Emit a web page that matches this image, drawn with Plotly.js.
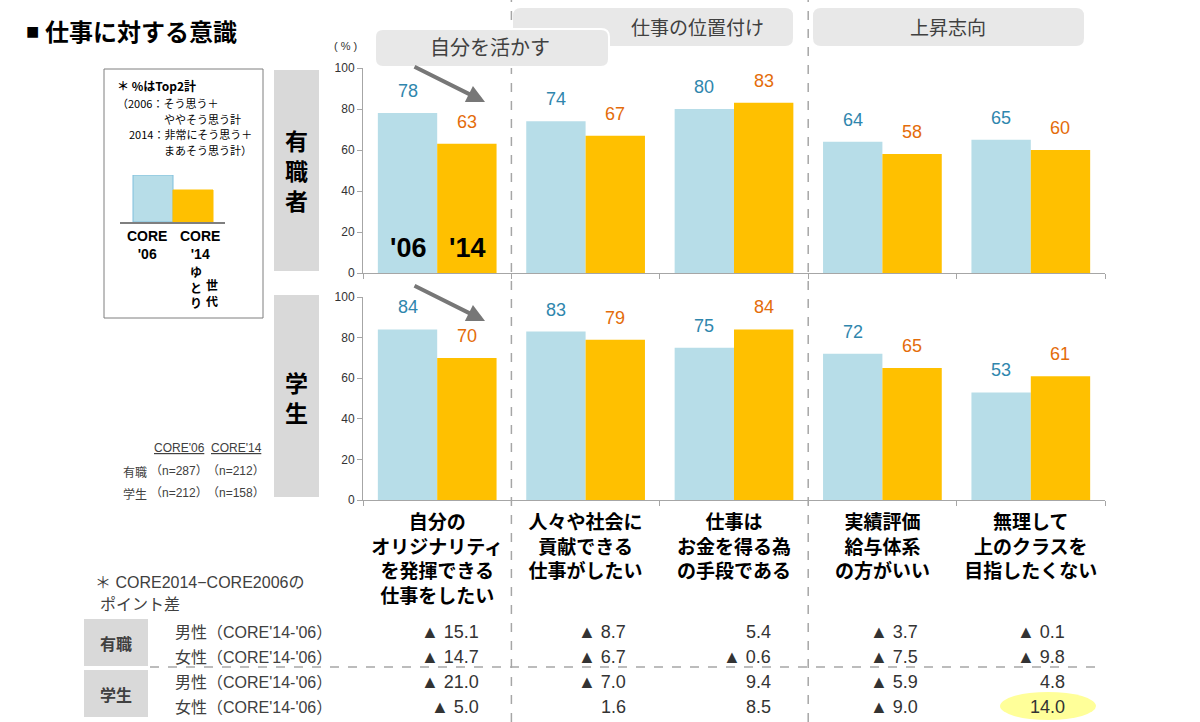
<!DOCTYPE html>
<html><head><meta charset="utf-8">
<script src="https://cdn.plot.ly/plotly-3.0.1.min.js"></script>
<style>html,body{margin:0;padding:0;background:#fff}#chart{width:1200px;height:722px}</style>
</head><body><div id="chart"></div>
<script>
// ---------- DATA ----------
const categories = [
  '自分の<br>オリジナリティ<br>を発揮できる<br>仕事をしたい',
  '人々や社会に<br>貢献できる<br>仕事がしたい',
  '仕事は<br>お金を得る為<br>の手段である',
  '実績評価<br>給与体系<br>の方がいい',
  '無理して<br>上のクラスを<br>目指したくない'
];
const workers2006 = [78, 74, 80, 64, 65];
const workers2014 = [63, 67, 83, 58, 60];
const students2006 = [84, 83, 75, 72, 53];
const students2014 = [70, 79, 84, 65, 61];
const yTicks = [0, 20, 40, 60, 80, 100];

const diffRowLabels = ["男性（CORE'14-'06）", "女性（CORE'14-'06）", "男性（CORE'14-'06）", "女性（CORE'14-'06）"];
const diffWorkersMale    = [-15.1, -8.7, 5.4, -3.7, -0.1];
const diffWorkersFemale  = [-14.7, -6.7, -0.6, -7.5, -9.8];
const diffStudentsMale   = [-21.0, -7.0, 9.4, -5.9, 4.8];
const diffStudentsFemale = [-5.0, 1.6, 8.5, -9.0, 14.0];

const legendSample = [47, 32];
const sampleHeader = ["CORE'06", "CORE'14"];
const sampleWorkers = ['（n=287）', '（n=212）'];
const sampleStudents = ['（n=212）', '（n=158）'];

// ---------- STYLE ----------
const W = 1200, H = 722;
const px = x => x / W;
const py = y => 1 - y / H;
const BLUE = '#b7dde8', ORANGE = '#ffc000';
const BLUE_TXT = '#2f86ad', ORANGE_TXT = '#e46c0a';
const GRAY_BOX = '#d9d9d9', HEAD_BOX = '#e8e8e8';
const FONT = "Arial, 'Liberation Sans', 'Noto Sans CJK JP', sans-serif";
const JFONT = "'Noto Sans CJK JP', sans-serif";
const axisGray = '#a6a6a6';

const barCommon = {type: 'bar', hoverinfo: 'skip', marker: {line: {width: 0}}};
const traces = [
  Object.assign({}, barCommon, {x: categories, y: workers2006, xaxis: 'x', yaxis: 'y', offsetgroup: 'a', marker: {color: BLUE}}),
  Object.assign({}, barCommon, {x: categories, y: workers2014, xaxis: 'x', yaxis: 'y', offsetgroup: 'b', marker: {color: ORANGE}}),
  Object.assign({}, barCommon, {x: categories, y: students2006, xaxis: 'x2', yaxis: 'y2', offsetgroup: 'a', marker: {color: BLUE}}),
  Object.assign({}, barCommon, {x: categories, y: students2014, xaxis: 'x2', yaxis: 'y2', offsetgroup: 'b', marker: {color: ORANGE}}),
  {type: 'bar', x: [0, 1], y: legendSample, xaxis: 'x3', yaxis: 'y3', width: 1, hoverinfo: 'skip',
   marker: {color: [BLUE, ORANGE], line: {color: ['#7fbfdc', ORANGE], width: 1}}}
];

const xCommon = {
  type: 'category', domain: [px(363), px(1105)], range: [-0.5, 4.5],
  showline: true, linecolor: axisGray, linewidth: 1,
  ticks: 'outside', tickson: 'boundaries', ticklen: 5, tickcolor: axisGray,
  showgrid: false, zeroline: false, fixedrange: true
};
const yCommon = {
  range: [0, 100], tickvals: yTicks, showline: true, linecolor: axisGray, linewidth: 1,
  ticks: 'outside', ticklen: 5, tickcolor: axisGray, showgrid: false, zeroline: false,
  tickfont: {family: FONT, size: 12, color: '#333'}, fixedrange: true
};

const annotations = [];
const ann = (o) => annotations.push(Object.assign({showarrow: false, xref: 'paper', yref: 'paper',
  xanchor: 'center', yanchor: 'middle'}, o));

// Value labels
function valueLabels(vals, xr, yr, dx, color) {
  vals.forEach((v, i) => ann({xref: xr, yref: yr, x: i + dx, y: v, yshift: 22, text: String(v),
    font: {family: FONT, size: 18, color: color}}));
}
valueLabels(workers2006, 'x', 'y', -0.2, BLUE_TXT);
valueLabels(workers2014, 'x', 'y', 0.2, ORANGE_TXT);
valueLabels(students2006, 'x2', 'y2', -0.2, BLUE_TXT);
valueLabels(students2014, 'x2', 'y2', 0.2, ORANGE_TXT);

// '06 / '14 big labels
ann({xref: 'x', yref: 'y', x: -0.2, y: 12, text: "<b>'06</b>", font: {family: FONT, size: 27, color: '#000'}});
ann({xref: 'x', yref: 'y', x: 0.2, y: 12, text: "<b>'14</b>", font: {family: FONT, size: 27, color: '#000'}});

// Title etc.
ann({x: px(24), y: py(31), xanchor: 'left', text: '■', font: {family: FONT, size: 22, color: '#000'}});
ann({x: px(43), y: py(30), xanchor: 'left', text: '<b>仕事に対する意識</b>', font: {family: JFONT, size: 24, color: '#000'}});
ann({x: px(345), y: py(46), text: '( % )', font: {family: FONT, size: 11, color: '#333'}});
ann({x: px(697), y: py(27), text: '仕事の位置付け', font: {family: JFONT, size: 19, color: '#404040'}});
ann({x: px(948), y: py(27), text: '上昇志向', font: {family: JFONT, size: 19, color: '#404040'}});
ann({x: px(490), y: py(46), text: '自分を活かす', font: {family: JFONT, size: 20, color: '#404040'}});

// Panel labels
ann({x: px(296), y: py(170), text: '<b>有<br>職<br>者</b>', font: {family: JFONT, size: 23, color: '#000'}});
ann({x: px(296), y: py(397), text: '<b>学<br>生</b>', font: {family: JFONT, size: 23, color: '#000'}});

// Arrows
ann({x: px(485), y: py(102), ax: -72, ay: -36, showarrow: true, text: '', arrowhead: 2, arrowsize: 0.9, arrowwidth: 4, arrowcolor: '#777'});
ann({x: px(485), y: py(321), ax: -72, ay: -36, showarrow: true, text: '', arrowhead: 2, arrowsize: 0.9, arrowwidth: 4, arrowcolor: '#777'});

// Legend box texts
ann({x: px(115), y: py(86), xanchor: 'left', text: '<b>＊ %はTop2計</b>', font: {family: JFONT, size: 12, color: '#000'}});
ann({x: px(115), y: py(103), xanchor: 'left', text: '（2006：そう思う＋', font: {family: JFONT, size: 11, color: '#000'}});
ann({x: px(162), y: py(119), xanchor: 'left', text: 'ややそう思う計', font: {family: JFONT, size: 11, color: '#000'}});
ann({x: px(127), y: py(134), xanchor: 'left', text: '2014：非常にそう思う＋', font: {family: JFONT, size: 11, color: '#000'}});
ann({x: px(162), y: py(150), xanchor: 'left', text: 'まあそう思う計）', font: {family: JFONT, size: 11, color: '#000'}});
ann({x: px(147), y: py(245), text: "<b>CORE<br>'06</b>", font: {family: FONT, size: 14, color: '#000'}});
ann({x: px(200), y: py(245), text: "<b>CORE<br>'14</b>", font: {family: FONT, size: 14, color: '#000'}});
ann({x: px(196), y: py(287), text: '<b>ゆ<br>と<br>り</b>', font: {family: JFONT, size: 12, color: '#000'}});
ann({x: px(212), y: py(292), text: '<b>世<br>代</b>', font: {family: JFONT, size: 12, color: '#000'}});

// Sample size notes
const colN = [179, 236];
sampleHeader.forEach((t, i) => ann({x: px(colN[i]), y: py(448), text: '<span style="text-decoration:underline">' + t + '</span>', font: {family: FONT, size: 12, color: '#404040'}}));
ann({x: px(121), y: py(471), xanchor: 'left', text: '有職', font: {family: JFONT, size: 12, color: '#404040'}});
ann({x: px(121), y: py(493), xanchor: 'left', text: '学生', font: {family: JFONT, size: 12, color: '#404040'}});
sampleWorkers.forEach((t, i) => ann({x: px(colN[i]), y: py(471), text: t, font: {family: FONT, size: 12, color: '#404040'}}));
sampleStudents.forEach((t, i) => ann({x: px(colN[i]), y: py(493), text: t, font: {family: FONT, size: 12, color: '#404040'}}));

// Difference table
ann({x: px(93), y: py(582), xanchor: 'left', text: '＊ CORE2014−CORE2006の', font: {family: FONT, size: 16, color: '#404040'}});
ann({x: px(98), y: py(604), xanchor: 'left', text: 'ポイント差', font: {family: FONT, size: 16, color: '#404040'}});
ann({x: px(116), y: py(643), text: '<b>有職</b>', font: {family: JFONT, size: 16, color: '#404040'}});
ann({x: px(116), y: py(694), text: '<b>学生</b>', font: {family: JFONT, size: 16, color: '#404040'}});
const rowY = [632, 657, 682, 707];
diffRowLabels.forEach((t, r) => ann({x: px(173), y: py(rowY[r]), xanchor: 'left', text: t, font: {family: FONT, size: 16, color: '#404040'}}));
const colShift = [44, 42, 39, 38, 36];
const fmt = v => v < 0 ? '▲ ' + Math.abs(v).toFixed(1) : v.toFixed(1);
[diffWorkersMale, diffWorkersFemale, diffStudentsMale, diffStudentsFemale].forEach((row, r) => {
  row.forEach((v, i) => ann({xref: 'x2', x: i, xshift: colShift[i], xanchor: 'right', y: py(rowY[r]),
    text: fmt(v), font: {family: FONT, size: 18, color: '#333'}}));
});

// ---------- SHAPES ----------
function roundRect(x0, y0, x1, y1, r) {
  const X0 = px(x0), X1 = px(x1), Y0 = py(y0), Y1 = py(y1), rx = r / W, ry = r / H;
  return `M ${X0 + rx},${Y0} L ${X1 - rx},${Y0} Q ${X1},${Y0} ${X1},${Y0 - ry} L ${X1},${Y1 + ry} Q ${X1},${Y1} ${X1 - rx},${Y1} L ${X0 + rx},${Y1} Q ${X0},${Y1} ${X0},${Y1 + ry} L ${X0},${Y0 - ry} Q ${X0},${Y0} ${X0 + rx},${Y0} Z`;
}
const shapes = [
  {type: 'line', xref: 'x', yref: 'paper', x0: 0.5, x1: 0.5, y0: 0, y1: 1, line: {color: axisGray, width: 1.5, dash: 'dash'}, layer: 'below'},
  {type: 'line', xref: 'x', yref: 'paper', x0: 2.5, x1: 2.5, y0: 0, y1: 1, line: {color: axisGray, width: 1.5, dash: 'dash'}, layer: 'below'},
  {type: 'line', xref: 'paper', yref: 'paper', x0: px(150), x1: px(1095), y0: py(667), y1: py(667), line: {color: axisGray, width: 1.5, dash: 'dash'}},
  {type: 'rect', xref: 'paper', yref: 'paper', x0: px(274), x1: px(319), y0: py(70), y1: py(271), fillcolor: GRAY_BOX, line: {width: 0}},
  {type: 'rect', xref: 'paper', yref: 'paper', x0: px(274), x1: px(319), y0: py(295), y1: py(497), fillcolor: GRAY_BOX, line: {width: 0}},
  {type: 'path', xref: 'paper', yref: 'paper', path: roundRect(513, 8, 793, 46, 8), fillcolor: HEAD_BOX, line: {width: 0}},
  {type: 'path', xref: 'paper', yref: 'paper', path: roundRect(813, 8, 1084, 46, 8), fillcolor: HEAD_BOX, line: {width: 0}},
  {type: 'path', xref: 'paper', yref: 'paper', path: roundRect(375, 29, 609, 67, 8), fillcolor: HEAD_BOX, line: {color: '#fff', width: 2}},
  {type: 'rect', xref: 'paper', yref: 'paper', x0: px(104), x1: px(263), y0: py(69), y1: py(318), fillcolor: 'rgba(0,0,0,0)', line: {color: '#7f7f7f', width: 1}},
  {type: 'rect', xref: 'paper', yref: 'paper', x0: px(84), x1: px(148), y0: py(619), y1: py(666), fillcolor: GRAY_BOX, line: {width: 0}},
  {type: 'rect', xref: 'paper', yref: 'paper', x0: px(84), x1: px(148), y0: py(670), y1: py(717), fillcolor: GRAY_BOX, line: {width: 0}},
  {type: 'circle', xref: 'paper', yref: 'paper', x0: px(1000), x1: px(1096), y0: py(692), y1: py(720), fillcolor: '#ffff99', line: {width: 0}, layer: 'below'}
];

const layout = {
  width: W, height: H, margin: {l: 0, r: 0, t: 0, b: 0}, paper_bgcolor: '#fff', plot_bgcolor: 'rgba(0,0,0,0)',
  showlegend: false, barmode: 'group', bargap: 0.2, bargroupgap: 0,
  xaxis: Object.assign({}, xCommon, {anchor: 'y', showticklabels: false}),
  yaxis: Object.assign({}, yCommon, {domain: [py(273), py(68)], anchor: 'x'}),
  xaxis2: Object.assign({}, xCommon, {anchor: 'y2', showticklabels: true, ticklabelstandoff: 5,
    tickfont: {family: JFONT, size: 19, color: '#000', weight: 'bold'}}),
  yaxis2: Object.assign({}, yCommon, {domain: [py(500), py(297)], anchor: 'x2'}),
  xaxis3: {domain: [px(120), px(225)], range: [-0.825, 1.8], anchor: 'y3', showline: true, linecolor: '#7f7f7f', linewidth: 2,
    showticklabels: false, ticks: '', showgrid: false, zeroline: false, fixedrange: true},
  yaxis3: {domain: [py(222), py(175)], range: [0, 47], anchor: 'x3', visible: false, fixedrange: true},
  annotations: annotations, shapes: shapes
};

Plotly.newPlot('chart', traces, layout, {displayModeBar: false, staticPlot: true});
</script></body></html>
